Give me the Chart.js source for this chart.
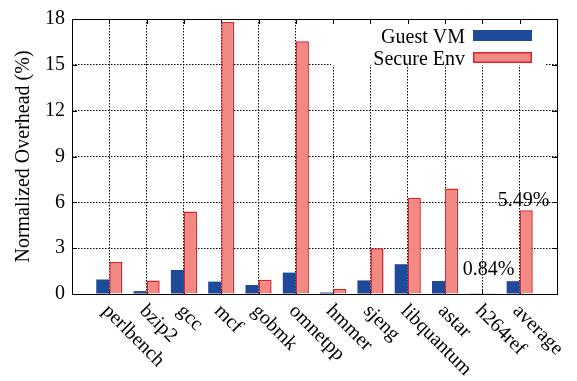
<!DOCTYPE html>
<html>
<head>
<meta charset="utf-8">
<script src="https://cdn.jsdelivr.net/npm/chart.js@4"></script>
<style>
  html, body { margin: 0; padding: 0; background: #fff; }
  #wrap { width: 577px; height: 381px; }
</style>
</head>
<body>
<div id="wrap"><canvas id="overheadChart" width="577" height="381"></canvas></div>
<script>
// benchmark names and overhead values (%)
const benchmarks = ['perlbench', 'bzip2', 'gcc', 'mcf', 'gobmk', 'omnetpp',
                    'hmmer', 'sjeng', 'libquantum', 'astar', 'h264ref', 'average'];
const guestVM   = [0.95, 0.19, 1.57, 0.81, 0.59, 1.40, 0.10, 0.89, 1.95, 0.85, 0.02, 0.84];
const secureEnv = [2.10, 0.89, 5.40, 17.80, 0.93, 16.54, 0.32, 3.00, 6.30, 6.91, 0.06, 5.49];
const yTicks = [0, 3, 6, 9, 12, 15, 18];

const SERIF = "'Liberation Serif', 'Times New Roman', serif";
const BLUE = '#1f4a99';
const SALMON = '#f28a84';
const RED = '#e3202a';

document.addEventListener('DOMContentLoaded', () => {
    const canvas = document.getElementById('overheadChart');

    // one empty slot on each side so the groups sit one step in from the frame
    const labels = ['', ...benchmarks, ''];
    const pad = arr => [null, ...arr, null];

    // frame, inward tics, legend, rotated names and the two value notes
    const decorations = {
        id: 'decorations',
        beforeDatasetsDraw(chart) {
            const { ctx, chartArea: ca, scales } = chart;
            ctx.save();
            // legend background hides the grid behind it
            ctx.fillStyle = '#fff';
            ctx.fillRect(ca.right - 226, ca.top, 214, 46);

            ctx.strokeStyle = '#000';
            ctx.lineWidth = 1;
            ctx.beginPath();
            yTicks.forEach(v => {
                const y = Math.round(scales.y.getPixelForValue(v)) + 0.5;
                ctx.moveTo(ca.left, y); ctx.lineTo(ca.left + 5, y);
                ctx.moveTo(ca.right, y); ctx.lineTo(ca.right - 5, y);
            });
            benchmarks.forEach((b, i) => {
                const x = Math.round(scales.x.getPixelForValue(i + 1)) + 0.5;
                ctx.moveTo(x, ca.top); ctx.lineTo(x, ca.top + 5);
                ctx.moveTo(x, ca.bottom); ctx.lineTo(x, ca.bottom - 5);
            });
            ctx.stroke();
            ctx.restore();
        },
        afterDatasetsDraw(chart) {
            const { ctx, chartArea: ca, scales } = chart;
            ctx.save();
            ctx.strokeStyle = '#000';
            ctx.lineWidth = 1;
            ctx.strokeRect(Math.round(ca.left) + 0.5, Math.round(ca.top) + 0.5,
                           Math.round(ca.right - ca.left), Math.round(ca.bottom - ca.top));

            ctx.font = '20px ' + SERIF;
            ctx.fillStyle = '#000';

            // legend
            const names = chart.data.datasets.map(d => d.label);
            ctx.textAlign = 'right';
            ctx.textBaseline = 'alphabetic';
            names.forEach((name, i) => {
                const base = ca.top + 24 + i * 22;
                ctx.fillStyle = '#000';
                ctx.fillText(name, ca.right - 92, base);
                const ds = chart.data.datasets[i];
                ctx.fillStyle = ds.backgroundColor;
                ctx.fillRect(ca.right - 84, base - 13, 59, 11);
                if (ds.borderWidth) {
                    ctx.strokeStyle = ds.borderColor;
                    ctx.lineWidth = 1.5;
                    ctx.strokeRect(ca.right - 84 + 0.75, base - 13 + 0.75, 59 - 1.5, 11 - 1.5);
                }
            });

            // category names, turned 45 degrees clockwise
            ctx.fillStyle = '#000';
            ctx.textAlign = 'left';
            ctx.textBaseline = 'middle';
            benchmarks.forEach((b, i) => {
                const x = scales.x.getPixelForValue(i + 1);
                ctx.save();
                ctx.translate(x - 4, ca.bottom + 14);
                ctx.rotate(Math.PI / 4);
                ctx.fillText(b, 0, 0);
                ctx.restore();
            });

            // value notes over the average group
            const last = benchmarks.length - 1;
            const xAvg = scales.x.getPixelForValue(last + 1);
            ctx.textAlign = 'center';
            ctx.textBaseline = 'alphabetic';
            ctx.fillText(guestVM[last].toFixed(2) + '%', xAvg - 31,
                         scales.y.getPixelForValue(guestVM[last]) - 6);
            ctx.fillText(secureEnv[last].toFixed(2) + '%', xAvg + 4,
                         scales.y.getPixelForValue(secureEnv[last]) - 4);
            ctx.restore();
        }
    };

    new Chart(canvas.getContext('2d'), {
        type: 'bar',
        data: {
            labels: labels,
            datasets: [
                {
                    label: 'Guest VM',
                    data: pad(guestVM),
                    backgroundColor: BLUE,
                    borderWidth: 0
                },
                {
                    label: 'Secure Env',
                    data: pad(secureEnv),
                    backgroundColor: SALMON,
                    borderColor: RED,
                    borderWidth: 1.5,
                    borderSkipped: 'bottom'
                }
            ]
        },
        options: {
            responsive: false,
            animation: false,
            devicePixelRatio: 1,
            categoryPercentage: 0.7,
            barPercentage: 1.0,
            layout: { padding: { top: 11, right: 20, left: 0, bottom: 0 } },
            plugins: {
                legend: { display: false },
                tooltip: { enabled: false }
            },
            scales: {
                x: {
                    offset: false,
                    grid: { display: true, offset: false, drawTicks: false, color: '#000', lineWidth: 1 },
                    border: { display: false, dash: [1.5, 1.5] },
                    ticks: { display: false },
                    afterFit: s => { s.height = 87; }
                },
                y: {
                    min: 0,
                    max: 18,
                    afterBuildTicks: s => { s.ticks = yTicks.map(v => ({ value: v })); },
                    grid: { drawTicks: false, color: '#000', lineWidth: 1 },
                    border: { display: false, dash: [1.5, 1.5] },
                    ticks: { padding: 7, color: '#000', font: { family: SERIF, size: 20 } },
                    title: {
                        display: true,
                        text: 'Normalized Overhead (%)',
                        color: '#000',
                        font: { family: SERIF, size: 20 },
                        padding: { top: 12, bottom: 0 }
                    },
                    afterFit: s => { s.width = 72; }
                }
            }
        },
        plugins: [decorations]
    });
});
</script>
</body>
</html>
